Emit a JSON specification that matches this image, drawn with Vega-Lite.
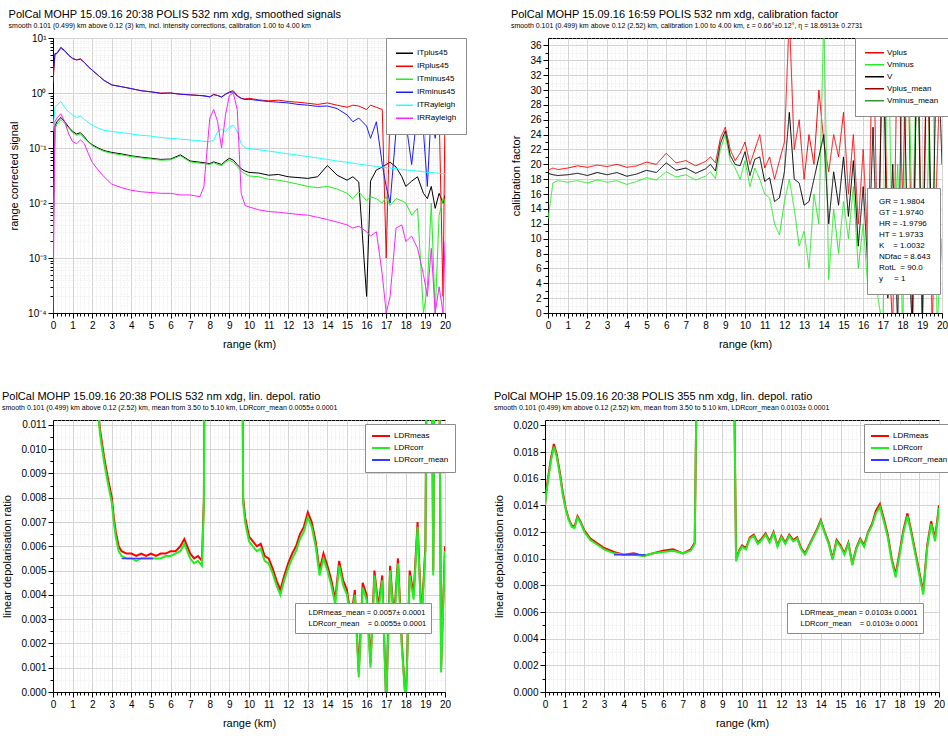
{
  "$schema": "https://vega.github.io/schema/vega-lite/v6.json",
  "background": "white",
  "padding": {"left": 1, "top": 8, "right": 0, "bottom": 0},
  "config": {
    "font": "Liberation Sans",
    "view": {"stroke": "black", "strokeWidth": 1},
    "axis": {
      "labelFontSize": 10, "titleFontSize": 11, "titleFontWeight": "normal",
      "labelColor": "black", "titleColor": "black", "domainColor": "black", "tickColor": "black",
      "grid": true, "labelOverlap": false, "labelBound": false, "labelFlush": false, "titlePadding": 8
    },
    "title": {"anchor": "start", "fontSize": 11, "fontWeight": "normal", "color": "black",
              "subtitleFontSize": 7, "subtitleColor": "black", "offset": 4, "subtitlePadding": 2},
    "legend": {"fillColor": "white", "strokeColor": "#8c8c8c", "labelColor": "black"}
  },
  "datasets": {
    "sig": [
      {"r":0,"ITplus45":0.002,"IRplus45":1.5,"ITminus45":0.001,"IRminus45":2.0,"ITRayleigh":0.2,"IRRayleigh":0.0001},
      {"r":0.1,"ITplus45":0.25,"IRplus45":5.0,"ITminus45":0.22,"IRminus45":5.2,"ITRayleigh":0.55,"IRRayleigh":0.3},
      {"r":0.2,"ITplus45":0.3,"IRplus45":5.2,"ITminus45":0.27,"IRminus45":5.3,"ITRayleigh":0.6,"IRRayleigh":0.35},
      {"r":0.4,"ITplus45":0.36,"IRplus45":6.5,"ITminus45":0.33,"IRminus45":6.8,"ITRayleigh":0.7,"IRRayleigh":0.42},
      {"r":0.6,"ITplus45":0.3,"IRplus45":5.8,"ITminus45":0.28,"IRminus45":5.9,"ITRayleigh":0.55,"IRRayleigh":0.3},
      {"r":0.8,"ITplus45":0.24,"IRplus45":4.8,"ITminus45":0.23,"IRminus45":4.9,"ITRayleigh":0.45,"IRRayleigh":0.18},
      {"r":1.0,"ITplus45":0.2,"IRplus45":4.3,"ITminus45":0.19,"IRminus45":4.2,"ITRayleigh":0.4,"IRRayleigh":0.13},
      {"r":1.2,"ITplus45":0.18,"IRplus45":4.0,"ITminus45":0.17,"IRminus45":4.0,"ITRayleigh":0.36,"IRRayleigh":0.12},
      {"r":1.4,"ITplus45":0.19,"IRplus45":4.2,"ITminus45":0.18,"IRminus45":4.1,"ITRayleigh":0.38,"IRRayleigh":0.14},
      {"r":1.6,"ITplus45":0.16,"IRplus45":3.6,"ITminus45":0.15,"IRminus45":3.6,"ITRayleigh":0.33,"IRRayleigh":0.12},
      {"r":1.8,"ITplus45":0.13,"IRplus45":3.0,"ITminus45":0.13,"IRminus45":3.0,"ITRayleigh":0.29,"IRRayleigh":0.08},
      {"r":2.0,"ITplus45":0.115,"IRplus45":2.6,"ITminus45":0.11,"IRminus45":2.6,"ITRayleigh":0.26,"IRRayleigh":0.055},
      {"r":2.3,"ITplus45":0.1,"IRplus45":2.1,"ITminus45":0.097,"IRminus45":2.1,"ITRayleigh":0.23,"IRRayleigh":0.04},
      {"r":2.6,"ITplus45":0.09,"IRplus45":1.7,"ITminus45":0.087,"IRminus45":1.7,"ITRayleigh":0.21,"IRRayleigh":0.03},
      {"r":3.0,"ITplus45":0.083,"IRplus45":1.4,"ITminus45":0.08,"IRminus45":1.4,"ITRayleigh":0.2,"IRRayleigh":0.022},
      {"r":3.5,"ITplus45":0.078,"IRplus45":1.3,"ITminus45":0.075,"IRminus45":1.3,"ITRayleigh":0.19,"IRRayleigh":0.019},
      {"r":4.0,"ITplus45":0.072,"IRplus45":1.2,"ITminus45":0.07,"IRminus45":1.2,"ITRayleigh":0.18,"IRRayleigh":0.017},
      {"r":4.5,"ITplus45":0.068,"IRplus45":1.1,"ITminus45":0.066,"IRminus45":1.1,"ITRayleigh":0.17,"IRRayleigh":0.016},
      {"r":5.0,"ITplus45":0.065,"IRplus45":1.05,"ITminus45":0.063,"IRminus45":1.05,"ITRayleigh":0.165,"IRRayleigh":0.0155},
      {"r":5.5,"ITplus45":0.062,"IRplus45":1.0,"ITminus45":0.06,"IRminus45":0.98,"ITRayleigh":0.155,"IRRayleigh":0.015},
      {"r":6.0,"ITplus45":0.063,"IRplus45":1.0,"ITminus45":0.061,"IRminus45":1.0,"ITRayleigh":0.15,"IRRayleigh":0.015},
      {"r":6.5,"ITplus45":0.075,"IRplus45":0.95,"ITminus45":0.072,"IRminus45":0.95,"ITRayleigh":0.145,"IRRayleigh":0.014},
      {"r":7.0,"ITplus45":0.058,"IRplus45":0.93,"ITminus45":0.056,"IRminus45":0.92,"ITRayleigh":0.14,"IRRayleigh":0.014},
      {"r":7.5,"ITplus45":0.055,"IRplus45":0.9,"ITminus45":0.053,"IRminus45":0.9,"ITRayleigh":0.135,"IRRayleigh":0.013},
      {"r":7.7,"ITplus45":0.054,"IRplus45":0.9,"ITminus45":0.052,"IRminus45":0.88,"ITRayleigh":0.132,"IRRayleigh":0.02},
      {"r":8.0,"ITplus45":0.052,"IRplus45":0.85,"ITminus45":0.05,"IRminus45":0.85,"ITRayleigh":0.13,"IRRayleigh":0.35},
      {"r":8.2,"ITplus45":0.056,"IRplus45":0.95,"ITminus45":0.054,"IRminus45":0.93,"ITRayleigh":0.14,"IRRayleigh":0.5},
      {"r":8.4,"ITplus45":0.053,"IRplus45":0.9,"ITminus45":0.05,"IRminus45":0.9,"ITRayleigh":0.2,"IRRayleigh":0.3},
      {"r":8.6,"ITplus45":0.05,"IRplus45":0.85,"ITminus45":0.048,"IRminus45":0.84,"ITRayleigh":0.22,"IRRayleigh":0.1},
      {"r":8.8,"ITplus45":0.058,"IRplus45":0.95,"ITminus45":0.055,"IRminus45":0.95,"ITRayleigh":0.2,"IRRayleigh":0.4},
      {"r":9.0,"ITplus45":0.065,"IRplus45":1.05,"ITminus45":0.06,"IRminus45":1.02,"ITRayleigh":0.24,"IRRayleigh":0.9},
      {"r":9.2,"ITplus45":0.06,"IRplus45":1.1,"ITminus45":0.055,"IRminus45":1.05,"ITRayleigh":0.26,"IRRayleigh":1.0},
      {"r":9.4,"ITplus45":0.05,"IRplus45":0.9,"ITminus45":0.046,"IRminus45":0.88,"ITRayleigh":0.2,"IRRayleigh":0.5},
      {"r":9.6,"ITplus45":0.042,"IRplus45":0.8,"ITminus45":0.038,"IRminus45":0.8,"ITRayleigh":0.12,"IRRayleigh":0.015},
      {"r":9.8,"ITplus45":0.038,"IRplus45":0.78,"ITminus45":0.034,"IRminus45":0.76,"ITRayleigh":0.1,"IRRayleigh":0.009},
      {"r":10.0,"ITplus45":0.036,"IRplus45":0.8,"ITminus45":0.031,"IRminus45":0.77,"ITRayleigh":0.098,"IRRayleigh":0.0085},
      {"r":10.5,"ITplus45":0.035,"IRplus45":0.75,"ITminus45":0.03,"IRminus45":0.73,"ITRayleigh":0.093,"IRRayleigh":0.0075},
      {"r":11.0,"ITplus45":0.032,"IRplus45":0.72,"ITminus45":0.027,"IRminus45":0.7,"ITRayleigh":0.088,"IRRayleigh":0.007},
      {"r":11.5,"ITplus45":0.033,"IRplus45":0.74,"ITminus45":0.026,"IRminus45":0.68,"ITRayleigh":0.083,"IRRayleigh":0.0068},
      {"r":12.0,"ITplus45":0.03,"IRplus45":0.7,"ITminus45":0.024,"IRminus45":0.66,"ITRayleigh":0.078,"IRRayleigh":0.0065},
      {"r":12.5,"ITplus45":0.029,"IRplus45":0.68,"ITminus45":0.022,"IRminus45":0.62,"ITRayleigh":0.074,"IRRayleigh":0.0062},
      {"r":13.0,"ITplus45":0.028,"IRplus45":0.65,"ITminus45":0.02,"IRminus45":0.6,"ITRayleigh":0.07,"IRRayleigh":0.006},
      {"r":13.5,"ITplus45":0.03,"IRplus45":0.62,"ITminus45":0.019,"IRminus45":0.57,"ITRayleigh":0.066,"IRRayleigh":0.0055},
      {"r":14.0,"ITplus45":0.048,"IRplus45":0.66,"ITminus45":0.02,"IRminus45":0.58,"ITRayleigh":0.062,"IRRayleigh":0.005},
      {"r":14.5,"ITplus45":0.032,"IRplus45":0.6,"ITminus45":0.018,"IRminus45":0.52,"ITRayleigh":0.058,"IRRayleigh":0.0045},
      {"r":15.0,"ITplus45":0.026,"IRplus45":0.55,"ITminus45":0.015,"IRminus45":0.4,"ITRayleigh":0.055,"IRRayleigh":0.004},
      {"r":15.3,"ITplus45":0.03,"IRplus45":0.6,"ITminus45":0.012,"IRminus45":0.3,"ITRayleigh":0.053,"IRRayleigh":0.0035},
      {"r":15.6,"ITplus45":0.024,"IRplus45":0.58,"ITminus45":0.016,"IRminus45":0.35,"ITRayleigh":0.051,"IRRayleigh":0.0038},
      {"r":16.0,"ITplus45":0.0002,"IRplus45":0.5,"ITminus45":0.011,"IRminus45":0.25,"ITRayleigh":0.049,"IRRayleigh":0.003},
      {"r":16.2,"ITplus45":0.025,"IRplus45":0.6,"ITminus45":0.013,"IRminus45":0.15,"ITRayleigh":0.048,"IRRayleigh":0.0025},
      {"r":16.5,"ITplus45":0.04,"IRplus45":0.55,"ITminus45":0.012,"IRminus45":0.3,"ITRayleigh":0.046,"IRRayleigh":0.003},
      {"r":16.8,"ITplus45":0.045,"IRplus45":0.5,"ITminus45":0.01,"IRminus45":0.05,"ITRayleigh":0.045,"IRRayleigh":0.0005},
      {"r":17.0,"ITplus45":0.05,"IRplus45":0.001,"ITminus45":0.013,"IRminus45":0.02,"ITRayleigh":0.044,"IRRayleigh":0.0001},
      {"r":17.2,"ITplus45":0.055,"IRplus45":0.55,"ITminus45":0.009,"IRminus45":0.01,"ITRayleigh":0.043,"IRRayleigh":0.0002},
      {"r":17.5,"ITplus45":0.045,"IRplus45":0.5,"ITminus45":0.012,"IRminus45":0.2,"ITRayleigh":0.042,"IRRayleigh":0.0035},
      {"r":17.8,"ITplus45":0.03,"IRplus45":0.6,"ITminus45":0.011,"IRminus45":0.4,"ITRayleigh":0.041,"IRRayleigh":0.004},
      {"r":18.0,"ITplus45":0.02,"IRplus45":0.55,"ITminus45":0.01,"IRminus45":0.3,"ITRayleigh":0.04,"IRRayleigh":0.002},
      {"r":18.3,"ITplus45":0.025,"IRplus45":0.5,"ITminus45":0.006,"IRminus45":0.05,"ITRayleigh":0.039,"IRRayleigh":0.0025},
      {"r":18.6,"ITplus45":0.03,"IRplus45":0.6,"ITminus45":0.008,"IRminus45":0.5,"ITRayleigh":0.038,"IRRayleigh":0.0015},
      {"r":18.9,"ITplus45":0.015,"IRplus45":0.45,"ITminus45":0.0001,"IRminus45":0.2,"ITRayleigh":0.037,"IRRayleigh":0.0005},
      {"r":19.1,"ITplus45":0.012,"IRplus45":0.5,"ITminus45":0.0003,"IRminus45":0.02,"ITRayleigh":0.036,"IRRayleigh":0.0002},
      {"r":19.3,"ITplus45":0.02,"IRplus45":0.4,"ITminus45":0.01,"IRminus45":0.5,"ITRayleigh":0.036,"IRRayleigh":0.0015},
      {"r":19.5,"ITplus45":0.008,"IRplus45":0.6,"ITminus45":0.0001,"IRminus45":0.15,"ITRayleigh":0.035,"IRRayleigh":0.0001},
      {"r":19.7,"ITplus45":0.015,"IRplus45":0.45,"ITminus45":0.006,"IRminus45":0.4,"ITRayleigh":0.035,"IRRayleigh":0.0003},
      {"r":19.9,"ITplus45":0.01,"IRplus45":0.0002,"ITminus45":0.012,"IRminus45":0.3,"ITRayleigh":0.034,"IRRayleigh":0.0001},
      {"r":20.0,"ITplus45":0.014,"IRplus45":0.5,"ITminus45":0.01,"IRminus45":0.2,"ITRayleigh":0.034,"IRRayleigh":0.002}
    ],
    "cal": [
      {"r":0,"Vplus":19.2,"Vminus":12.6,"V":18.8},
      {"r":0.25,"Vplus":19.5,"Vminus":17.5,"V":18.6},
      {"r":0.5,"Vplus":19.3,"Vminus":17.8,"V":18.5},
      {"r":1.0,"Vplus":19.5,"Vminus":17.6,"V":18.6},
      {"r":1.5,"Vplus":19.8,"Vminus":17.8,"V":18.8},
      {"r":2.0,"Vplus":19.6,"Vminus":17.5,"V":18.5},
      {"r":2.5,"Vplus":19.9,"Vminus":17.9,"V":18.9},
      {"r":3.0,"Vplus":19.7,"Vminus":17.6,"V":18.6},
      {"r":3.5,"Vplus":20.0,"Vminus":17.8,"V":18.9},
      {"r":4.0,"Vplus":19.6,"Vminus":17.3,"V":18.4},
      {"r":4.5,"Vplus":19.8,"Vminus":17.7,"V":18.7},
      {"r":5.0,"Vplus":20.3,"Vminus":18.2,"V":19.2},
      {"r":5.5,"Vplus":20.0,"Vminus":17.9,"V":18.9},
      {"r":6.0,"Vplus":21.5,"Vminus":19.0,"V":20.2},
      {"r":6.5,"Vplus":20.2,"Vminus":18.3,"V":19.2},
      {"r":7.0,"Vplus":20.5,"Vminus":18.6,"V":19.5},
      {"r":7.5,"Vplus":19.8,"Vminus":17.9,"V":18.8},
      {"r":8.0,"Vplus":20.4,"Vminus":18.4,"V":19.4},
      {"r":8.25,"Vplus":21.0,"Vminus":19.0,"V":20.0},
      {"r":8.5,"Vplus":20.2,"Vminus":18.1,"V":19.1},
      {"r":8.75,"Vplus":23.5,"Vminus":22.0,"V":22.8},
      {"r":9.0,"Vplus":25.0,"Vminus":24.0,"V":24.5},
      {"r":9.25,"Vplus":22.0,"Vminus":20.5,"V":21.2},
      {"r":9.5,"Vplus":20.5,"Vminus":19.5,"V":20.0},
      {"r":9.75,"Vplus":21.5,"Vminus":18.0,"V":19.8},
      {"r":10.0,"Vplus":23.0,"Vminus":20.5,"V":21.7},
      {"r":10.25,"Vplus":20.0,"Vminus":17.0,"V":18.5},
      {"r":10.5,"Vplus":22.0,"Vminus":19.5,"V":20.7},
      {"r":10.75,"Vplus":24.0,"Vminus":18.0,"V":21.0},
      {"r":11.0,"Vplus":19.5,"Vminus":16.0,"V":17.7},
      {"r":11.25,"Vplus":21.0,"Vminus":15.5,"V":18.2},
      {"r":11.5,"Vplus":18.0,"Vminus":12.0,"V":15.0},
      {"r":11.75,"Vplus":20.5,"Vminus":10.5,"V":15.5},
      {"r":12.0,"Vplus":23.0,"Vminus":15.0,"V":19.0},
      {"r":12.25,"Vplus":40.0,"Vminus":18.0,"V":27.0},
      {"r":12.5,"Vplus":22.0,"Vminus":14.0,"V":18.0},
      {"r":12.75,"Vplus":26.0,"Vminus":9.0,"V":17.5},
      {"r":13.0,"Vplus":18.0,"Vminus":11.0,"V":14.5},
      {"r":13.25,"Vplus":24.0,"Vminus":6.0,"V":15.0},
      {"r":13.5,"Vplus":20.0,"Vminus":16.0,"V":18.0},
      {"r":13.75,"Vplus":30.0,"Vminus":12.0,"V":21.0},
      {"r":14.0,"Vplus":23.0,"Vminus":40.0,"V":24.0},
      {"r":14.25,"Vplus":19.0,"Vminus":4.5,"V":12.0},
      {"r":14.5,"Vplus":24.0,"Vminus":14.0,"V":19.0},
      {"r":14.75,"Vplus":21.0,"Vminus":8.0,"V":14.5},
      {"r":15.0,"Vplus":27.0,"Vminus":15.0,"V":21.0},
      {"r":15.25,"Vplus":16.0,"Vminus":10.0,"V":13.0},
      {"r":15.5,"Vplus":24.0,"Vminus":17.0,"V":20.5},
      {"r":15.75,"Vplus":12.0,"Vminus":6.0,"V":9.0},
      {"r":16.0,"Vplus":22.0,"Vminus":12.0,"V":17.0},
      {"r":16.25,"Vplus":8.0,"Vminus":3.0,"V":5.5},
      {"r":16.5,"Vplus":40.0,"Vminus":14.0,"V":25.0},
      {"r":16.75,"Vplus":5.0,"Vminus":2.0,"V":3.5},
      {"r":17.0,"Vplus":40.0,"Vminus":-2.0,"V":40.0},
      {"r":17.25,"Vplus":10.0,"Vminus":40.0,"V":2.0},
      {"r":17.5,"Vplus":-2.0,"Vminus":5.0,"V":20.0},
      {"r":17.75,"Vplus":40.0,"Vminus":20.0,"V":-2.0},
      {"r":18.0,"Vplus":15.0,"Vminus":-2.0,"V":40.0},
      {"r":18.25,"Vplus":40.0,"Vminus":40.0,"V":10.0},
      {"r":18.5,"Vplus":-2.0,"Vminus":10.0,"V":-2.0},
      {"r":18.75,"Vplus":40.0,"Vminus":40.0,"V":40.0},
      {"r":19.0,"Vplus":5.0,"Vminus":-2.0,"V":-2.0},
      {"r":19.25,"Vplus":40.0,"Vminus":15.0,"V":40.0},
      {"r":19.5,"Vplus":-2.0,"Vminus":40.0,"V":5.0},
      {"r":19.75,"Vplus":20.0,"Vminus":-2.0,"V":40.0},
      {"r":20.0,"Vplus":40.0,"Vminus":10.0,"V":20.0}
    ],
    "calInfo": [
      {"label":"GR = 1.9804"},
      {"label":"GT = 1.9740"},
      {"label":"HR = -1.9796"},
      {"label":"HT = 1.9733"},
      {"label":"K\u00a0\u00a0\u00a0\u00a0= 1.0032"},
      {"label":"NDfac = 8.643"},
      {"label":"RotL\u00a0\u00a0= 90.0"},
      {"label":"y\u00a0\u00a0\u00a0\u00a0\u00a0= 1"}
    ],
    "ldr532": [
      {"r":2.2,"LDRmeas":0.0125,"LDRcorr":0.0125},
      {"r":2.4,"LDRmeas":0.0108,"LDRcorr":0.0106},
      {"r":2.6,"LDRmeas":0.0097,"LDRcorr":0.0095},
      {"r":2.8,"LDRmeas":0.0088,"LDRcorr":0.0086},
      {"r":3.0,"LDRmeas":0.0080,"LDRcorr":0.0078},
      {"r":3.1,"LDRmeas":0.0072,"LDRcorr":0.0070},
      {"r":3.2,"LDRmeas":0.0066,"LDRcorr":0.0064},
      {"r":3.35,"LDRmeas":0.0060,"LDRcorr":0.0058},
      {"r":3.5,"LDRmeas":0.0058,"LDRcorr":0.0056},
      {"r":3.75,"LDRmeas":0.0057,"LDRcorr":0.0055},
      {"r":4.0,"LDRmeas":0.0057,"LDRcorr":0.0055},
      {"r":4.25,"LDRmeas":0.0056,"LDRcorr":0.0054},
      {"r":4.5,"LDRmeas":0.0057,"LDRcorr":0.0055},
      {"r":4.75,"LDRmeas":0.0056,"LDRcorr":0.0055},
      {"r":5.0,"LDRmeas":0.0057,"LDRcorr":0.0055},
      {"r":5.25,"LDRmeas":0.0056,"LDRcorr":0.0055},
      {"r":5.5,"LDRmeas":0.0057,"LDRcorr":0.0055},
      {"r":5.75,"LDRmeas":0.0057,"LDRcorr":0.0056},
      {"r":6.0,"LDRmeas":0.0058,"LDRcorr":0.0056},
      {"r":6.25,"LDRmeas":0.0058,"LDRcorr":0.0057},
      {"r":6.5,"LDRmeas":0.0060,"LDRcorr":0.0058},
      {"r":6.7,"LDRmeas":0.0063,"LDRcorr":0.0061},
      {"r":6.85,"LDRmeas":0.0060,"LDRcorr":0.0058},
      {"r":7.0,"LDRmeas":0.0057,"LDRcorr":0.0055},
      {"r":7.2,"LDRmeas":0.0055,"LDRcorr":0.0053},
      {"r":7.4,"LDRmeas":0.0056,"LDRcorr":0.0054},
      {"r":7.6,"LDRmeas":0.0054,"LDRcorr":0.0052},
      {"r":7.7,"LDRmeas":0.0080,"LDRcorr":0.0078},
      {"r":7.8,"LDRmeas":0.03,"LDRcorr":0.03},
      {"r":9.6,"LDRmeas":0.03,"LDRcorr":0.03},
      {"r":9.7,"LDRmeas":0.0080,"LDRcorr":0.0078},
      {"r":9.8,"LDRmeas":0.0072,"LDRcorr":0.0070},
      {"r":10.0,"LDRmeas":0.0064,"LDRcorr":0.0062},
      {"r":10.2,"LDRmeas":0.0062,"LDRcorr":0.0060},
      {"r":10.4,"LDRmeas":0.0060,"LDRcorr":0.0058},
      {"r":10.6,"LDRmeas":0.0061,"LDRcorr":0.0059},
      {"r":10.8,"LDRmeas":0.0056,"LDRcorr":0.0054},
      {"r":11.0,"LDRmeas":0.0055,"LDRcorr":0.0053},
      {"r":11.2,"LDRmeas":0.0051,"LDRcorr":0.0049},
      {"r":11.4,"LDRmeas":0.0046,"LDRcorr":0.0044},
      {"r":11.6,"LDRmeas":0.0042,"LDRcorr":0.0040},
      {"r":11.8,"LDRmeas":0.0048,"LDRcorr":0.0046},
      {"r":12.0,"LDRmeas":0.0053,"LDRcorr":0.0051},
      {"r":12.2,"LDRmeas":0.0057,"LDRcorr":0.0055},
      {"r":12.4,"LDRmeas":0.0060,"LDRcorr":0.0058},
      {"r":12.6,"LDRmeas":0.0065,"LDRcorr":0.0063},
      {"r":12.8,"LDRmeas":0.0068,"LDRcorr":0.0066},
      {"r":13.0,"LDRmeas":0.0074,"LDRcorr":0.0072},
      {"r":13.2,"LDRmeas":0.0070,"LDRcorr":0.0068},
      {"r":13.4,"LDRmeas":0.0062,"LDRcorr":0.0060},
      {"r":13.6,"LDRmeas":0.0050,"LDRcorr":0.0048},
      {"r":13.8,"LDRmeas":0.0057,"LDRcorr":0.0055},
      {"r":14.0,"LDRmeas":0.0052,"LDRcorr":0.0050},
      {"r":14.2,"LDRmeas":0.0046,"LDRcorr":0.0044},
      {"r":14.4,"LDRmeas":0.0038,"LDRcorr":0.0036},
      {"r":14.6,"LDRmeas":0.0054,"LDRcorr":0.0052},
      {"r":14.8,"LDRmeas":0.0046,"LDRcorr":0.0044},
      {"r":15.0,"LDRmeas":0.0042,"LDRcorr":0.0040},
      {"r":15.2,"LDRmeas":0.0030,"LDRcorr":0.0028},
      {"r":15.4,"LDRmeas":0.0042,"LDRcorr":0.0040},
      {"r":15.6,"LDRmeas":0.0008,"LDRcorr":0.0006},
      {"r":15.8,"LDRmeas":0.0045,"LDRcorr":0.0043},
      {"r":16.0,"LDRmeas":0.0040,"LDRcorr":0.0038},
      {"r":16.2,"LDRmeas":0.0012,"LDRcorr":0.0010},
      {"r":16.4,"LDRmeas":0.0050,"LDRcorr":0.0048},
      {"r":16.6,"LDRmeas":0.0035,"LDRcorr":0.0033},
      {"r":16.8,"LDRmeas":0.0048,"LDRcorr":0.0046},
      {"r":17.0,"LDRmeas":-0.0005,"LDRcorr":-0.0005},
      {"r":17.2,"LDRmeas":0.0052,"LDRcorr":0.0050},
      {"r":17.4,"LDRmeas":0.0030,"LDRcorr":0.0028},
      {"r":17.6,"LDRmeas":0.0055,"LDRcorr":0.0053},
      {"r":17.8,"LDRmeas":0.0020,"LDRcorr":0.0018},
      {"r":18.0,"LDRmeas":-0.0005,"LDRcorr":-0.0005},
      {"r":18.2,"LDRmeas":0.0050,"LDRcorr":0.0048},
      {"r":18.4,"LDRmeas":0.0040,"LDRcorr":0.0038},
      {"r":18.6,"LDRmeas":0.0070,"LDRcorr":0.0068},
      {"r":18.8,"LDRmeas":0.0030,"LDRcorr":0.0028},
      {"r":19.0,"LDRmeas":0.0060,"LDRcorr":0.0058},
      {"r":19.2,"LDRmeas":0.03,"LDRcorr":0.03},
      {"r":19.4,"LDRmeas":0.0050,"LDRcorr":0.0048},
      {"r":19.6,"LDRmeas":0.03,"LDRcorr":0.03},
      {"r":19.8,"LDRmeas":0.0010,"LDRcorr":0.0008},
      {"r":20.0,"LDRmeas":0.0060,"LDRcorr":0.0058}
    ],
    "mean532": [
      {"r":3.5,"series":"LDRcorr_mean","value":0.0055},
      {"r":5.1,"series":"LDRcorr_mean","value":0.0055}
    ],
    "info532": [
      {"label":"LDRmeas_mean = 0.0057± 0.0001"},
      {"label":"LDRcorr_mean\u00a0\u00a0\u00a0\u00a0= 0.0055± 0.0001"}
    ],
    "ldr355": [
      {"r":0.0,"LDRmeas":0.0140,"LDRcorr":0.0140},
      {"r":0.1,"LDRmeas":0.0155,"LDRcorr":0.0153},
      {"r":0.2,"LDRmeas":0.0165,"LDRcorr":0.0163},
      {"r":0.3,"LDRmeas":0.0175,"LDRcorr":0.0173},
      {"r":0.45,"LDRmeas":0.0186,"LDRcorr":0.0184},
      {"r":0.6,"LDRmeas":0.0178,"LDRcorr":0.0176},
      {"r":0.75,"LDRmeas":0.0165,"LDRcorr":0.0163},
      {"r":0.9,"LDRmeas":0.0150,"LDRcorr":0.0148},
      {"r":1.05,"LDRmeas":0.0138,"LDRcorr":0.0137},
      {"r":1.2,"LDRmeas":0.0130,"LDRcorr":0.0129},
      {"r":1.35,"LDRmeas":0.0125,"LDRcorr":0.0124},
      {"r":1.5,"LDRmeas":0.0124,"LDRcorr":0.0123},
      {"r":1.65,"LDRmeas":0.0132,"LDRcorr":0.0131},
      {"r":1.8,"LDRmeas":0.0128,"LDRcorr":0.0127},
      {"r":2.0,"LDRmeas":0.0121,"LDRcorr":0.0120},
      {"r":2.3,"LDRmeas":0.0115,"LDRcorr":0.0114},
      {"r":2.6,"LDRmeas":0.0112,"LDRcorr":0.0111},
      {"r":3.0,"LDRmeas":0.0108,"LDRcorr":0.0107},
      {"r":3.5,"LDRmeas":0.0105,"LDRcorr":0.0104},
      {"r":4.0,"LDRmeas":0.0103,"LDRcorr":0.0103},
      {"r":4.5,"LDRmeas":0.0104,"LDRcorr":0.0103},
      {"r":5.0,"LDRmeas":0.0102,"LDRcorr":0.0102},
      {"r":5.5,"LDRmeas":0.0104,"LDRcorr":0.0104},
      {"r":6.0,"LDRmeas":0.0106,"LDRcorr":0.0105},
      {"r":6.5,"LDRmeas":0.0107,"LDRcorr":0.0106},
      {"r":7.0,"LDRmeas":0.0104,"LDRcorr":0.0104},
      {"r":7.4,"LDRmeas":0.0107,"LDRcorr":0.0106},
      {"r":7.6,"LDRmeas":0.0112,"LDRcorr":0.0111},
      {"r":7.75,"LDRmeas":0.03,"LDRcorr":0.03},
      {"r":9.55,"LDRmeas":0.03,"LDRcorr":0.03},
      {"r":9.7,"LDRmeas":0.0100,"LDRcorr":0.0098},
      {"r":9.85,"LDRmeas":0.0106,"LDRcorr":0.0105},
      {"r":10.0,"LDRmeas":0.0110,"LDRcorr":0.0109},
      {"r":10.2,"LDRmeas":0.0108,"LDRcorr":0.0107},
      {"r":10.4,"LDRmeas":0.0116,"LDRcorr":0.0115},
      {"r":10.6,"LDRmeas":0.0118,"LDRcorr":0.0117},
      {"r":10.8,"LDRmeas":0.0112,"LDRcorr":0.0111},
      {"r":11.0,"LDRmeas":0.0115,"LDRcorr":0.0114},
      {"r":11.2,"LDRmeas":0.0119,"LDRcorr":0.0118},
      {"r":11.4,"LDRmeas":0.0113,"LDRcorr":0.0112},
      {"r":11.6,"LDRmeas":0.0120,"LDRcorr":0.0119},
      {"r":11.8,"LDRmeas":0.0110,"LDRcorr":0.0109},
      {"r":12.0,"LDRmeas":0.0117,"LDRcorr":0.0116},
      {"r":12.2,"LDRmeas":0.0112,"LDRcorr":0.0111},
      {"r":12.4,"LDRmeas":0.0118,"LDRcorr":0.0117},
      {"r":12.6,"LDRmeas":0.0114,"LDRcorr":0.0113},
      {"r":12.8,"LDRmeas":0.0116,"LDRcorr":0.0115},
      {"r":13.0,"LDRmeas":0.0108,"LDRcorr":0.0107},
      {"r":13.2,"LDRmeas":0.0104,"LDRcorr":0.0103},
      {"r":13.4,"LDRmeas":0.0110,"LDRcorr":0.0109},
      {"r":13.6,"LDRmeas":0.0116,"LDRcorr":0.0115},
      {"r":13.8,"LDRmeas":0.0122,"LDRcorr":0.0121},
      {"r":14.0,"LDRmeas":0.0129,"LDRcorr":0.0128},
      {"r":14.2,"LDRmeas":0.0120,"LDRcorr":0.0119},
      {"r":14.4,"LDRmeas":0.0112,"LDRcorr":0.0111},
      {"r":14.6,"LDRmeas":0.0100,"LDRcorr":0.0099},
      {"r":14.8,"LDRmeas":0.0114,"LDRcorr":0.0113},
      {"r":15.0,"LDRmeas":0.0110,"LDRcorr":0.0109},
      {"r":15.2,"LDRmeas":0.0104,"LDRcorr":0.0103},
      {"r":15.4,"LDRmeas":0.0112,"LDRcorr":0.0111},
      {"r":15.6,"LDRmeas":0.0096,"LDRcorr":0.0095},
      {"r":15.8,"LDRmeas":0.0108,"LDRcorr":0.0107},
      {"r":16.0,"LDRmeas":0.0115,"LDRcorr":0.0114},
      {"r":16.2,"LDRmeas":0.0110,"LDRcorr":0.0109},
      {"r":16.4,"LDRmeas":0.0120,"LDRcorr":0.0119},
      {"r":16.6,"LDRmeas":0.0126,"LDRcorr":0.0125},
      {"r":16.8,"LDRmeas":0.0136,"LDRcorr":0.0134},
      {"r":17.0,"LDRmeas":0.0141,"LDRcorr":0.0139},
      {"r":17.2,"LDRmeas":0.0130,"LDRcorr":0.0128},
      {"r":17.4,"LDRmeas":0.0118,"LDRcorr":0.0116},
      {"r":17.6,"LDRmeas":0.0100,"LDRcorr":0.0098},
      {"r":17.8,"LDRmeas":0.0088,"LDRcorr":0.0086},
      {"r":18.0,"LDRmeas":0.0105,"LDRcorr":0.0103},
      {"r":18.2,"LDRmeas":0.0122,"LDRcorr":0.0120},
      {"r":18.4,"LDRmeas":0.0134,"LDRcorr":0.0132},
      {"r":18.6,"LDRmeas":0.0120,"LDRcorr":0.0118},
      {"r":18.8,"LDRmeas":0.0105,"LDRcorr":0.0103},
      {"r":19.0,"LDRmeas":0.0090,"LDRcorr":0.0088},
      {"r":19.2,"LDRmeas":0.0075,"LDRcorr":0.0073},
      {"r":19.4,"LDRmeas":0.0110,"LDRcorr":0.0108},
      {"r":19.6,"LDRmeas":0.0128,"LDRcorr":0.0126},
      {"r":19.8,"LDRmeas":0.0115,"LDRcorr":0.0113},
      {"r":20.0,"LDRmeas":0.0140,"LDRcorr":0.0138}
    ],
    "mean355": [
      {"r":3.5,"series":"LDRcorr_mean","value":0.0103},
      {"r":5.1,"series":"LDRcorr_mean","value":0.0103}
    ],
    "info355": [
      {"label":"LDRmeas_mean = 0.0103± 0.0001"},
      {"label":"LDRcorr_mean\u00a0\u00a0\u00a0\u00a0= 0.0103± 0.0001"}
    ]
  },
  "spacing": 40,
  "resolve": {"scale": {"color": "independent", "shape": "independent", "strokeDash": "independent"},
              "legend": {"color": "independent", "shape": "independent", "strokeDash": "independent"}},
  "vconcat": [
    {
      "spacing": 43,
      "resolve": {"scale": {"color": "independent", "shape": "independent", "strokeDash": "independent"},
                  "legend": {"color": "independent", "shape": "independent", "strokeDash": "independent"}},
      "hconcat": [
        {
          "width": 392, "height": 275,
          "title": {"text": "PolCal MOHP 15.09.16 20:38 POLIS 532 nm xdg, smoothed signals",
                    "subtitle": "smooth 0.101 (0.499) km above 0.12 (3) km, incl. intensity corrections, calibration 1.00 to 4.00 km"},
          "data": {"name": "sig"},
          "transform": [{"fold": ["ITplus45","IRplus45","ITminus45","IRminus45","ITRayleigh","IRRayleigh"], "as": ["series","value"]}],
          "mark": {"type": "line", "strokeWidth": 1, "clip": true},
          "encoding": {
            "x": {"field": "r", "type": "quantitative", "scale": {"domain": [0, 20], "nice": false},
                  "axis": {"title": "range (km)", "tickCount": 100,
                           "labelExpr": "abs(datum.value-round(datum.value))<0.01 ? format(round(datum.value),'d') : ''",
                           "tickSize": {"condition": {"test": "abs(datum.value-round(datum.value))<0.01", "value": 5}, "value": 3},
                           "gridColor": {"condition": {"test": "abs(datum.value-round(datum.value))<0.01", "value": "#d4d4d4"}, "value": "#e6e6e6"},
                           "gridDash": {"condition": {"test": "abs(datum.value-round(datum.value))<0.01", "value": []}, "value": [1, 2]}}},
            "y": {"field": "value", "type": "quantitative",
                  "scale": {"type": "log", "domain": [0.0001, 10], "nice": false},
                  "axis": {"title": "range corrected signal",
                           "values": [0.0001,0.0002,0.0003,0.0004,0.0005,0.0006,0.0007,0.0008,0.0009,0.001,0.002,0.003,0.004,0.005,0.006,0.007,0.008,0.009,0.01,0.02,0.03,0.04,0.05,0.06,0.07,0.08,0.09,0.1,0.2,0.3,0.4,0.5,0.6,0.7,0.8,0.9,1,2,3,4,5,6,7,8,9,10],
                           "labelExpr": "abs(log(datum.value)/LN10-round(log(datum.value)/LN10))<0.001 ? (round(log(datum.value)/LN10)==1 ? '10¹' : round(log(datum.value)/LN10)==0 ? '10⁰' : round(log(datum.value)/LN10)==-1 ? '10⁻¹' : round(log(datum.value)/LN10)==-2 ? '10⁻²' : round(log(datum.value)/LN10)==-3 ? '10⁻³' : '10⁻⁴') : ''",
                           "tickSize": {"condition": {"test": "abs(log(datum.value)/LN10-round(log(datum.value)/LN10))<0.001", "value": 5}, "value": 3},
                           "gridColor": {"condition": {"test": "abs(log(datum.value)/LN10-round(log(datum.value)/LN10))<0.001", "value": "#d4d4d4"}, "value": "#e6e6e6"},
                           "gridDash": {"condition": {"test": "abs(log(datum.value)/LN10-round(log(datum.value)/LN10))<0.001", "value": []}, "value": [1, 2]}}},
            "color": {"field": "series", "type": "nominal",
                      "scale": {"domain": ["ITplus45","IRplus45","ITminus45","IRminus45","ITRayleigh","IRRayleigh"],
                                "range": ["#000000","#ff0000","#22ee22","#1a1aff","#22ffff","#ff22ff"]},
                      "legend": {"title": null, "orient": "none", "legendX": 333, "legendY": 0,
                                 "symbolType": "stroke", "symbolStrokeWidth": 1.5, "symbolSize": 289,
                                 "labelFontSize": 8, "labelOffset": 3, "rowPadding": 0, "clipHeight": 12.5, "padding": 9}}
          }
        },
        {
          "width": 394, "height": 275,
          "title": {"text": "PolCal MOHP 15.09.16 16:59 POLIS 532 nm xdg, calibration factor",
                    "subtitle": "smooth 0.101 (0.499) km above 0.12 (2.52) km, calibration 1.00 to 4.00 km, ε = 0.66°±0.12°, η = 18.6913± 0.2731",
                    "offset": 9},
          "resolve": {"scale": {"color": "independent", "shape": "independent"},
                      "legend": {"color": "independent", "shape": "independent"}},
          "layer": [
            {
              "data": {"name": "cal"},
              "transform": [{"fold": ["Vplus","Vminus","V"], "as": ["series","value"]}],
              "mark": {"type": "line", "strokeWidth": 1, "clip": true},
              "encoding": {
                "x": {"field": "r", "type": "quantitative", "scale": {"domain": [0, 20], "nice": false},
                      "axis": {"title": "range (km)", "tickCount": 100,
                               "labelExpr": "abs(datum.value-round(datum.value))<0.01 ? format(round(datum.value),'d') : ''",
                               "tickSize": {"condition": {"test": "abs(datum.value-round(datum.value))<0.01", "value": 5}, "value": 3},
                               "gridColor": {"condition": {"test": "abs(datum.value-round(datum.value))<0.01", "value": "#d4d4d4"}, "value": "#e6e6e6"},
                               "gridDash": {"condition": {"test": "abs(datum.value-round(datum.value))<0.01", "value": []}, "value": [1, 2]}}},
                "y": {"field": "value", "type": "quantitative", "scale": {"domain": [0, 37], "nice": false},
                      "axis": {"title": "calibration factor",
                               "values": [0,1,2,3,4,5,6,7,8,9,10,11,12,13,14,15,16,17,18,19,20,21,22,23,24,25,26,27,28,29,30,31,32,33,34,35,36],
                               "labelExpr": "datum.value % 2 == 0 ? format(datum.value,'d') : ''",
                               "tickSize": {"condition": {"test": "datum.value % 2 == 0", "value": 5}, "value": 3},
                               "gridColor": {"condition": {"test": "datum.value % 2 == 0", "value": "#d4d4d4"}, "value": "#e6e6e6"},
                               "gridDash": {"condition": {"test": "datum.value % 2 == 0", "value": []}, "value": [1, 2]}}},
                "color": {"field": "series", "type": "nominal",
                          "scale": {"domain": ["Vplus","Vminus","V","Vplus_mean","Vminus_mean"],
                                    "range": ["#ff0000","#22ee22","#000000","#990000","#339933"]},
                          "legend": {"title": null, "orient": "none", "legendX": 307, "legendY": 0,
                                     "symbolType": "stroke", "symbolStrokeWidth": 1.5, "symbolSize": 361,
                                     "labelFontSize": 8, "labelOffset": 2, "rowPadding": 0, "clipHeight": 11.5, "padding": 9}},
                "strokeDash": {"field": "series", "type": "nominal",
                               "scale": {"domain": ["Vplus","Vminus","V","Vplus_mean","Vminus_mean"],
                                         "range": [[1,0],[1,0],[1,0],[4,3],[4,3]]},
                               "legend": {"title": null, "orient": "none", "legendX": 307, "legendY": 0,
                                          "symbolType": "stroke", "symbolStrokeWidth": 1.5, "symbolSize": 361,
                                          "labelFontSize": 8, "labelOffset": 2, "rowPadding": 0, "clipHeight": 11.5, "padding": 9}}
              }
            },
            {
              "data": {"name": "calInfo"},
              "mark": {"type": "point", "opacity": 0},
              "encoding": {
                "shape": {"field": "label", "type": "nominal", "sort": null,
                          "scale": {"range": ["circle"]},
                          "legend": {"title": null, "orient": "none", "legendX": 319, "legendY": 150,
                                     "symbolSize": 1, "symbolOpacity": 0, "labelOffset": -5,
                                     "labelFontSize": 8, "rowPadding": 0, "clipHeight": 10.3, "padding": 9}}
              }
            }
          ]
        }
      ]
    },
    {
      "spacing": 37,
      "resolve": {"scale": {"color": "independent", "shape": "independent"},
                  "legend": {"color": "independent", "shape": "independent"}},
      "hconcat": [
        {
          "width": 392, "height": 272,
          "title": {"text": "PolCal MOHP 15.09.16 20:38 POLIS 532 nm xdg, lin. depol. ratio",
                    "subtitle": "smooth 0.101 (0.499) km above 0.12 (2.52) km, mean from 3.50 to 5.10 km, LDRcorr_mean 0.0055± 0.0001",
                    "offset": 9},
          "resolve": {"scale": {"color": "independent", "shape": "independent"},
                      "legend": {"color": "independent", "shape": "independent"}},
          "encoding": {
            "x": {"field": "r", "type": "quantitative", "scale": {"domain": [0, 20], "nice": false},
                  "axis": {"title": "range (km)", "tickCount": 100,
                           "labelExpr": "abs(datum.value-round(datum.value))<0.01 ? format(round(datum.value),'d') : ''",
                           "tickSize": {"condition": {"test": "abs(datum.value-round(datum.value))<0.01", "value": 5}, "value": 3},
                           "gridColor": {"condition": {"test": "abs(datum.value-round(datum.value))<0.01", "value": "#d4d4d4"}, "value": "#e6e6e6"},
                           "gridDash": {"condition": {"test": "abs(datum.value-round(datum.value))<0.01", "value": []}, "value": [1, 2]}}},
            "y": {"field": "value", "type": "quantitative", "scale": {"domain": [0, 0.0112], "nice": false},
                  "axis": {"title": "linear depolarisation ratio",
                           "values": [0,0.0005,0.001,0.0015,0.002,0.0025,0.003,0.0035,0.004,0.0045,0.005,0.0055,0.006,0.0065,0.007,0.0075,0.008,0.0085,0.009,0.0095,0.01,0.0105,0.011],
                           "labelExpr": "abs(datum.value*1000-round(datum.value*1000))<0.01 ? format(datum.value,'.3f') : ''",
                           "tickSize": {"condition": {"test": "abs(datum.value*1000-round(datum.value*1000))<0.01", "value": 5}, "value": 3},
                           "gridColor": {"condition": {"test": "abs(datum.value*1000-round(datum.value*1000))<0.01", "value": "#d4d4d4"}, "value": "#e6e6e6"},
                           "gridDash": {"condition": {"test": "abs(datum.value*1000-round(datum.value*1000))<0.01", "value": []}, "value": [1, 2]}}}
          },
          "layer": [
            {
              "data": {"name": "ldr532"},
              "transform": [{"fold": ["LDRmeas","LDRcorr"], "as": ["series","value"]}],
              "mark": {"type": "line", "strokeWidth": 2, "clip": true},
              "encoding": {
                "color": {"field": "series", "type": "nominal",
                          "scale": {"domain": ["LDRmeas","LDRcorr","LDRcorr_mean"], "range": ["#ff0000","#22ee22","#3b3bff"]},
                          "legend": {"title": null, "orient": "none", "legendX": 312, "legendY": 4,
                                     "symbolType": "stroke", "symbolStrokeWidth": 2, "symbolSize": 324,
                                     "labelFontSize": 8, "labelOffset": 3, "rowPadding": 0, "clipHeight": 12, "padding": 6}}
              }
            },
            {
              "data": {"name": "mean532"},
              "mark": {"type": "line", "strokeWidth": 1.5, "clip": true, "color": "#3b3bff"}
            },
            {
              "data": {"name": "info532"},
              "mark": {"type": "point", "opacity": 0},
              "encoding": {
                "x": null, "y": null,
                "shape": {"field": "label", "type": "nominal", "sort": null,
                          "scale": {"range": ["circle"]},
                          "legend": {"title": null, "orient": "none", "legendX": 242, "legendY": 183,
                                     "symbolSize": 1, "symbolOpacity": 0, "labelOffset": 2,
                                     "labelFontSize": 7.5, "rowPadding": 0, "clipHeight": 11, "padding": 4}}
              }
            }
          ]
        },
        {
          "width": 394, "height": 272,
          "title": {"text": "PolCal MOHP 15.09.16 20:38 POLIS 355 nm xdg, lin. depol. ratio",
                    "subtitle": "smooth 0.101 (0.499) km above 0.12 (2.52) km, mean from 3.50 to 5.10 km, LDRcorr_mean 0.0103± 0.0001",
                    "offset": 9},
          "resolve": {"scale": {"color": "independent", "shape": "independent"},
                      "legend": {"color": "independent", "shape": "independent"}},
          "encoding": {
            "x": {"field": "r", "type": "quantitative", "scale": {"domain": [0, 20], "nice": false},
                  "axis": {"title": "range (km)", "tickCount": 100,
                           "labelExpr": "abs(datum.value-round(datum.value))<0.01 ? format(round(datum.value),'d') : ''",
                           "tickSize": {"condition": {"test": "abs(datum.value-round(datum.value))<0.01", "value": 5}, "value": 3},
                           "gridColor": {"condition": {"test": "abs(datum.value-round(datum.value))<0.01", "value": "#d4d4d4"}, "value": "#e6e6e6"},
                           "gridDash": {"condition": {"test": "abs(datum.value-round(datum.value))<0.01", "value": []}, "value": [1, 2]}}},
            "y": {"field": "value", "type": "quantitative", "scale": {"domain": [0, 0.0204], "nice": false},
                  "axis": {"title": "linear depolarisation ratio",
                           "values": [0,0.001,0.002,0.003,0.004,0.005,0.006,0.007,0.008,0.009,0.01,0.011,0.012,0.013,0.014,0.015,0.016,0.017,0.018,0.019,0.02],
                           "labelExpr": "abs(datum.value*500-round(datum.value*500))<0.01 ? format(datum.value,'.3f') : ''",
                           "tickSize": {"condition": {"test": "abs(datum.value*500-round(datum.value*500))<0.01", "value": 5}, "value": 3},
                           "gridColor": {"condition": {"test": "abs(datum.value*500-round(datum.value*500))<0.01", "value": "#d4d4d4"}, "value": "#e6e6e6"},
                           "gridDash": {"condition": {"test": "abs(datum.value*500-round(datum.value*500))<0.01", "value": []}, "value": [1, 2]}}}
          },
          "layer": [
            {
              "data": {"name": "ldr355"},
              "transform": [{"fold": ["LDRmeas","LDRcorr"], "as": ["series","value"]}],
              "mark": {"type": "line", "strokeWidth": 2, "clip": true},
              "encoding": {
                "color": {"field": "series", "type": "nominal",
                          "scale": {"domain": ["LDRmeas","LDRcorr","LDRcorr_mean"], "range": ["#ff0000","#22ee22","#3b3bff"]},
                          "legend": {"title": null, "orient": "none", "legendX": 319, "legendY": 4,
                                     "symbolType": "stroke", "symbolStrokeWidth": 2, "symbolSize": 324,
                                     "labelFontSize": 8, "labelOffset": 3, "rowPadding": 0, "clipHeight": 12, "padding": 6}}
              }
            },
            {
              "data": {"name": "mean355"},
              "mark": {"type": "line", "strokeWidth": 1.5, "clip": true, "color": "#3b3bff"}
            },
            {
              "data": {"name": "info355"},
              "mark": {"type": "point", "opacity": 0},
              "encoding": {
                "x": null, "y": null,
                "shape": {"field": "label", "type": "nominal", "sort": null,
                          "scale": {"range": ["circle"]},
                          "legend": {"title": null, "orient": "none", "legendX": 242, "legendY": 183,
                                     "symbolSize": 1, "symbolOpacity": 0, "labelOffset": 2,
                                     "labelFontSize": 7.5, "rowPadding": 0, "clipHeight": 11, "padding": 4}}
              }
            }
          ]
        }
      ]
    }
  ]
}
